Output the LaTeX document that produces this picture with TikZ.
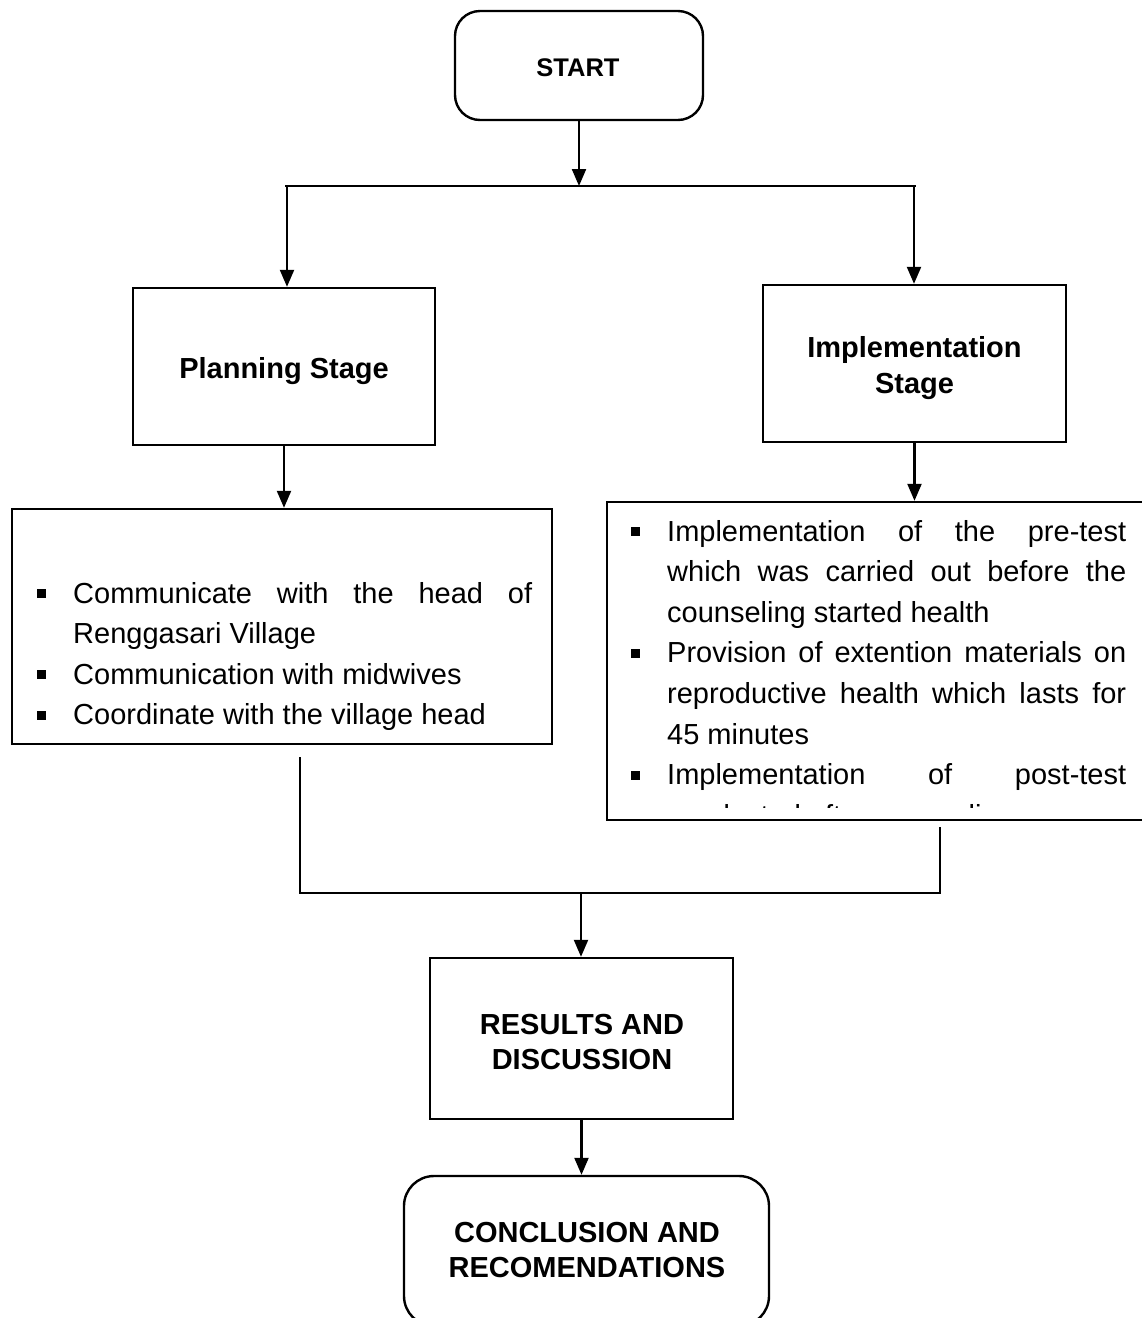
\documentclass[tikz,border=0pt]{standalone}
\usepackage{fontspec}
\setmainfont{Liberation Sans}
\usetikzlibrary{arrows.meta}
\newcommand{\bul}{\leavevmode\llap{\raisebox{5pt}{\rule{9pt}{9pt}}\hspace{27pt}}}
\tikzset{
  box/.style={draw, line width=2.4pt, inner sep=0pt},
  rbox/.style={box, rounded corners=#1},
  lbl/.style={inner sep=0pt, align=center,
    font=\fontsize{29pt}{35.5pt}\selectfont\bfseries},
  listtext/.style={anchor=base west, inner sep=0pt, text width=459pt, align=justify,
    font=\fontsize{29pt}{40.6pt}\selectfont},
  conn/.style={line width=2.2pt},
  arr/.style={conn, -{Triangle[length=17pt,width=14pt]}}
}
\begin{document}
\begin{tikzpicture}[x=1pt,y=-1pt]
\useasboundingbox (0,0) rectangle (1142,1318);
% boxes
\node[rbox=25pt, minimum width=248pt, minimum height=109pt] (start) at (579,65.5) {};
\node[box, minimum width=302pt, minimum height=157pt] (plan) at (284,366.5) {};
\node[box, minimum width=303pt, minimum height=157pt] (impl) at (914.5,363.5) {};
\node[box, minimum width=540pt, minimum height=235pt] (leftc) at (282,626.5) {};
\node[box, minimum width=543pt, minimum height=318pt] (rightc) at (878.5,661) {};
\node[box, minimum width=303pt, minimum height=161pt] (res) at (581.5,1038.5) {};
\node[rbox=30pt, minimum width=365pt, minimum height=150pt] (concl) at (586.5,1251) {};
% labels
\node[lbl, font=\fontsize{25.5pt}{30pt}\selectfont\bfseries] (startl) at (578,67.5) {START};
\node[lbl] (planl) at (284,371.5) {Planning Stage};
\node[lbl] (impll) at (914.5,368) {Implementation\\Stage};
\node[lbl] (resl) at (582,1042) {RESULTS AND\\DISCUSSION};
\node[lbl] (concll) at (587,1250) {CONCLUSION AND\\RECOMENDATIONS};
% list texts
\node[listtext] (ltext) at (73,603) {\hyphenpenalty=10000\exhyphenpenalty=10000\hbadness=10000
\bul Communicate with the head of\linebreak Renggasari Village\par
\bul Communication with midwives\par
\bul Coordinate with the village head\par};
\begin{scope}
\clip ([xshift=2pt,yshift=-2pt]rightc.north west) rectangle (1142,807.5);
\node[listtext] (rtext) at (667,541) {\hyphenpenalty=10000\exhyphenpenalty=10000\hbadness=10000
\bul Implementation of the pre-test\linebreak which was carried out before the\linebreak counseling started health\par
\bul Provision of extention materials on\linebreak reproductive health which lasts for\linebreak 45 minutes\par
\bul Implementation of post-test\linebreak conducted after counseling\par};
\end{scope}
% connectors
\coordinate (jc) at (579,186);
\coordinate (jl) at (287,186);
\coordinate (jr) at (914,186);
\draw[arr] (start.south) -- (jc);
\draw[conn] ([xshift=-2pt]jl) -- ([xshift=2pt]jr);
\draw[arr] (jl) -- (jl |- plan.north);
\draw[arr] (jr) -- (jr |- impl.north);
\draw[arr] (plan.south) -- (plan.south |- leftc.north);
\draw[arr] (impl.south) -- (impl.south |- rightc.north);
\coordinate (ml) at (300,757);
\coordinate (mr) at (940,827);
\coordinate (mbl) at (300,893);
\coordinate (mbr) at (940,893);
\coordinate (mc) at (581,893);
\draw[conn] (ml) -- (mbl) -- (mbr) -- (mr);
\draw[arr] (mc) -- (mc |- res.north);
\draw[arr] (res.south) -- (res.south |- concl.north);
\end{tikzpicture}
\end{document}
